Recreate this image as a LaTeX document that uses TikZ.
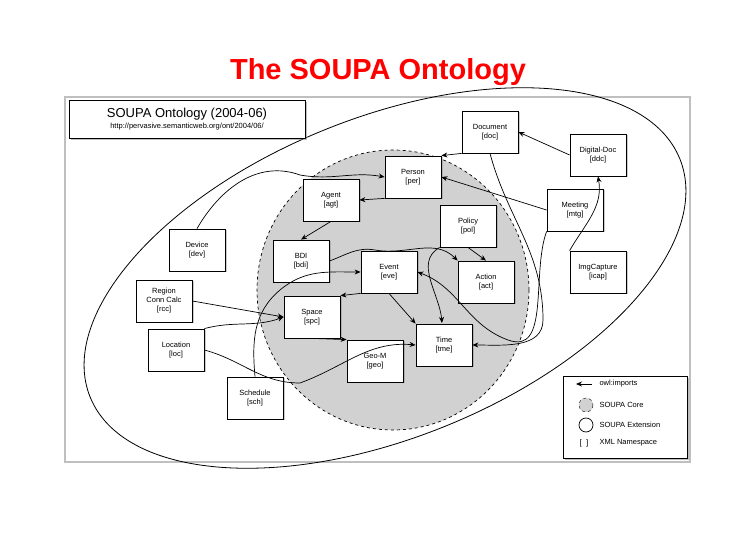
\documentclass[tikz,border=0pt]{standalone}
\usepackage{fontspec}
\setmainfont{Liberation Sans}
\usetikzlibrary{shadows,arrows.meta}
\begin{document}
\begin{tikzpicture}[x=1pt,y=-1pt,
  bx/.style={draw,fill=white,line width=0.8pt,minimum width=56pt,minimum height=42pt,align=center,font=\fontsize{7.5}{9}\selectfont,inner sep=1pt,drop shadow={shadow xshift=1.5pt,shadow yshift=-1.5pt,opacity=0.4}},
  imp/.style={-{Stealth[length=6pt,width=5pt]},line width=0.7pt}]
\useasboundingbox (0,0) rectangle (756,540);
\node[font=\bfseries\fontsize{29}{32}\selectfont,text=red] (title) at (378,72) {The SOUPA Ontology};
\draw[black!25,line width=1.5pt] (65,97) rectangle (690,462);
% ellipses
\draw[line width=0.8pt,rotate around={22:(385,278)}] (385,278) ellipse (318 and 160);
\draw[dashed,fill=black!18,line width=0.7pt] (393,290) ellipse (136 and 140);
% title box
\node[draw,fill=white,line width=0.8pt,minimum width=236pt,minimum height=38pt,inner sep=2pt,align=center,drop shadow={shadow xshift=2pt,shadow yshift=-2pt,opacity=0.5}] (tb) at (187,119)
 {{\fontsize{13}{14}\selectfont SOUPA Ontology (2004-06)}\\[-1pt]{\fontsize{7.5}{9}\selectfont http://pervasive.semanticweb.org/ont/2004/06/}};
% nodes
\node[bx] (doc) at (490,132) {Document\\{}[doc]};
\node[bx] (ddc) at (598,155) {Digital-Doc\\{}[ddc]};
\node[bx] (per) at (413,177) {Person\\{}[per]};
\node[bx] (agt) at (331,200) {Agent\\{}[agt]};
\node[bx] (mtg) at (575,210) {Meeting\\{}[mtg]};
\node[bx] (pol) at (468,226) {Policy\\{}[pol]};
\node[bx] (dev) at (197,250) {Device\\{}[dev]};
\node[bx] (bdi) at (301,261) {BDI\\{}[bdi]};
\node[bx] (icap) at (598,272) {ImgCapture\\{}[icap]};
\node[bx] (eve) at (389,272) {Event\\{}[eve]};
\node[bx] (act) at (486,282) {Action\\{}[act]};
\node[bx] (rcc) at (164,301) {Region\\Conn Calc\\{}[rcc]};
\node[bx] (spc) at (312,317) {Space\\{}[spc]};
\node[bx] (loc) at (176,350) {Location\\{}[loc]};
\node[bx] (tme) at (444,345) {Time\\{}[tme]};
\node[bx] (geo) at (375,361) {Geo-M\\{}[geo]};
\node[bx] (sch) at (255,398) {Schedule\\{}[sch]};
% connectors
\draw[imp] (ddc.west) -- (doc.east);
\draw[imp] (icap.north west) to[out=60,in=-80] (ddc.south);
\draw[imp] (mtg.west) -- (per.east);
\draw[imp] (doc.south west) -- (per.north east);
\draw[imp] (mtg.south west) to[out=-110,in=-20] (508,340) to[out=160,in=-20] (eve.east);
\draw[imp] (doc.south) to[out=-75,in=90] (543,320) to[out=-90,in=0] (tme.east);
\draw[imp] (dev.north) to[out=60,in=160] (300,175) to[out=-10,in=170] (per.west);
\draw[imp] (per.south west) -- (agt.east);
\draw[imp] (agt.south) -- (bdi.north);
\draw[imp] (bdi.east) to[out=20,in=170] (375,250) to[out=-10,in=135] (act.north west);
\draw[imp] (pol.south) -- (act.north);
\draw[imp] (pol.south west) to[out=-150,in=95] (442,323);
\draw[imp] (eve.south west) -- (spc.north east);
\draw[imp] (eve.south) -- (tme.north west);
\draw[imp] (rcc.east) -- (spc.west);
\draw[imp] (loc.north east) to[out=15,in=-160] (spc.west);
\draw[imp] (loc.east) to[out=-15,in=180] (300,383) to[out=20,in=175] (tme.west);
\draw[imp] (spc.south) -- (geo.north west);
\draw[imp] (sch.north) to[out=95,in=-140] (280,290) to[out=40,in=180] (eve.west);
% legend
\node[draw,fill=white,line width=0.8pt,minimum width=124pt,minimum height=82pt,drop shadow={shadow xshift=2pt,shadow yshift=-2pt,opacity=0.5}] (leg) at (625,417) {};
\coordinate (la) at (576,384);
\coordinate (lb) at (592,384);
\draw[imp] (lb) -- (la);
\node[anchor=west,font=\fontsize{7.5}{9}\selectfont] (l1) at (596,384) {owl:imports};
\draw[dashed,fill=black!18] (586,405) circle (7);
\node[anchor=west,font=\fontsize{7.5}{9}\selectfont] (l2) at (596,405) {SOUPA Core};
\draw[line width=0.7pt] (586,425) circle (7);
\node[anchor=west,font=\fontsize{7.5}{9}\selectfont] (l3) at (596,425) {SOUPA Extension};
\node[font=\fontsize{8}{9}\selectfont] (l4a) at (584,443) {[\ \ ]};
\node[anchor=west,font=\fontsize{7.5}{9}\selectfont] (l4) at (596,443) {XML Namespace};
\end{tikzpicture}
\end{document}
